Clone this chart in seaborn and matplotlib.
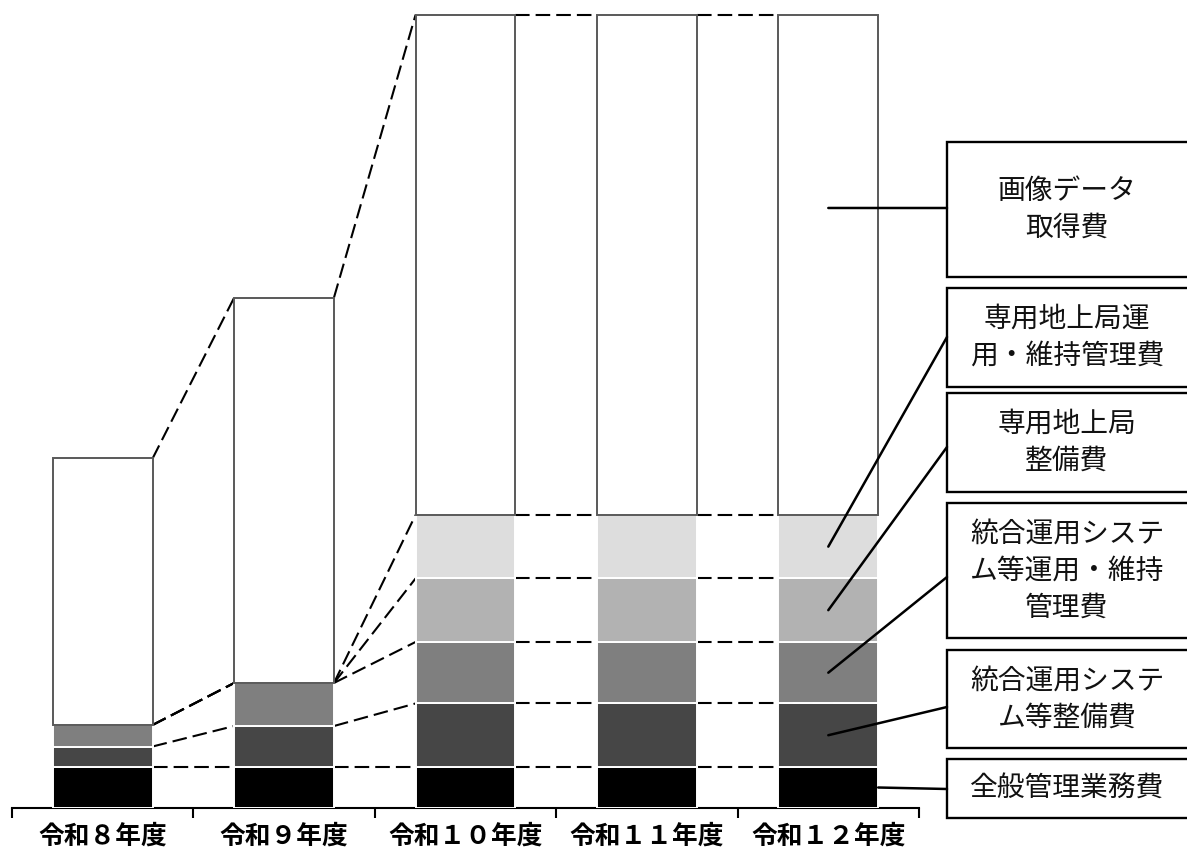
import matplotlib
matplotlib.use("Agg")
import matplotlib.pyplot as plt
from matplotlib.patches import Rectangle
import numpy as np
import pandas as pd
import seaborn as sns

# ------------------------------------------------------------------
# Data (arbitrary units)
# ------------------------------------------------------------------
years = ["令和８年度", "令和９年度", "令和１０年度", "令和１１年度", "令和１２年度"]

series_names = [
    "全般管理業務費",
    "統合運用システム等整備費",
    "統合運用システム等運用・維持管理費",
    "専用地上局整備費",
    "専用地上局運用・維持管理費",
    "画像データ取得費",
]
general_mgmt = [2.0, 2.0, 2.0, 2.0, 2.0]
sys_build = [1.0, 2.0, 3.1, 3.1, 3.1]
sys_ops = [1.05, 2.1, 3.0, 3.0, 3.0]
station_build = [0.0, 0.0, 3.1, 3.1, 3.1]
station_ops = [0.0, 0.0, 3.1, 3.1, 3.1]
image_data = [13.0, 18.8, 24.4, 24.4, 24.4]

box_labels = [
    "全般管理業務費",
    "統合運用システ\nム等整備費",
    "統合運用システ\nム等運用・維持\n管理費",
    "専用地上局\n整備費",
    "専用地上局運\n用・維持管理費",
    "画像データ\n取得費",
]

colors = ["#000000", "#464646", "#7f7f7f", "#b2b2b2", "#dddddd", "#ffffff"]

# ------------------------------------------------------------------
# Style
# ------------------------------------------------------------------
sns.set_theme(style="white")
plt.rcParams["font.family"] = ["Noto Sans CJK JP", "DejaVu Sans"]

W, H = 1187, 850
fig = plt.figure(figsize=(W / 100, H / 100), dpi=100)
fig.patch.set_facecolor("white")

px_per_unit = 20.5
ax = fig.add_axes([12 / W, 42 / H, 907 / W, 808 / H])

values = [general_mgmt, sys_build, sys_ops, station_build, station_ops, image_data]
bottom = np.zeros(len(years))
bottoms = []
for name, vals, col in zip(series_names, values, colors):
    df = pd.DataFrame({"year": years, "value": vals})
    ec = "#595959" if col == "#ffffff" else "white"
    sns.barplot(data=df, x="year", y="value", order=years, ax=ax,
                color=col, saturation=1, width=0.55, errorbar=None,
                bottom=bottom.copy(), edgecolor=ec, linewidth=1.4, zorder=3)
    bottoms.append(bottom.copy())
    bottom = bottom + np.array(vals)

# dashed connectors between tops of each stack level
half = 0.55 / 2
cum = np.cumsum(np.array(values), axis=0)
for level in cum:
    for i in range(len(years) - 1):
        ax.plot([i + half, i + 1 - half], [level[i], level[i + 1]],
                color="black", lw=1.5, linestyle=(0, (7, 2.9)), zorder=2,
                dash_capstyle="butt")

ax.set_xlim(-0.5, len(years) - 0.5)
ax.set_ylim(0, 808 / px_per_unit)
ax.set_xlabel("")
ax.set_ylabel("")
ax.set_yticks([])
for s in ["left", "right", "top"]:
    ax.spines[s].set_visible(False)
ax.spines["bottom"].set_color("black")
ax.spines["bottom"].set_linewidth(1.5)
ax.set_xticks(range(len(years)))
ax.set_xticklabels(years, fontsize=18.5, fontweight="bold")
ax.set_xticks(np.arange(-0.5, len(years)), minor=True)
ax.tick_params(axis="x", which="major", bottom=True, length=0, pad=10.5,
               colors="black")
ax.tick_params(axis="x", which="minor", bottom=True, length=7, width=1.5,
               direction="out", color="black")
ax.patch.set_alpha(0)

# ------------------------------------------------------------------
# Label boxes on the right with leader lines
# ------------------------------------------------------------------
ov = fig.add_axes([0, 0, 1, 1])
ov.set_xlim(0, W)
ov.set_ylim(H, 0)
ov.axis("off")
ov.patch.set_alpha(0)

box_x0 = 947
box_spans = [(759, 818), (650, 748), (503, 638), (393, 492), (288, 387), (142, 277)]
box_anchor_y = [789, 707, 577, 447, 337, 208]
seg_frac = [0.5, 0.5, 0.5, 0.5, 0.5, 0.6135]

last = len(years) - 1
for k, (lab, (y0, y1)) in enumerate(zip(box_labels, box_spans)):
    ov.add_patch(Rectangle((box_x0, y0), W + 5 - box_x0, y1 - y0,
                           facecolor="white", edgecolor="black", lw=1.7))
    ov.text((box_x0 + W) / 2, (y0 + y1) / 2, lab, ha="center", va="center",
            fontsize=20, linespacing=1.31, color="#111111")
    yv = bottoms[k][last] + seg_frac[k] * values[k][last]
    xv = last + half if k == 0 else last
    dx, dy = ax.transData.transform((xv, yv))
    ov.plot([dx, box_x0], [H - dy, box_anchor_y[k]], color="black", lw=1.8)

fig.savefig("out.png", dpi=100, facecolor="white")
